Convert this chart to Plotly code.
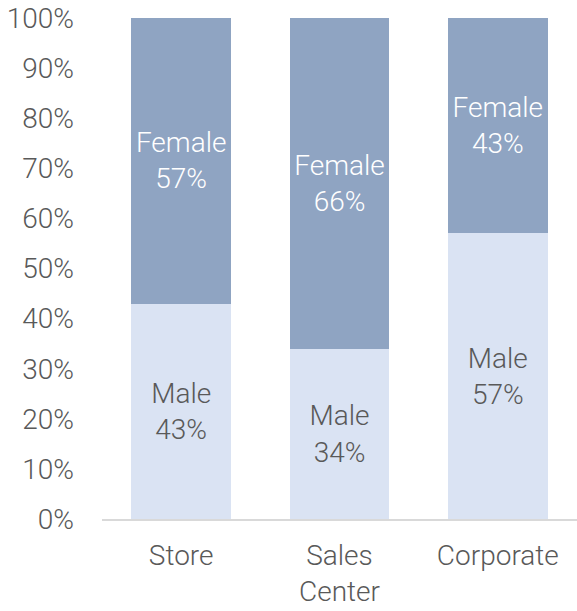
import plotly.graph_objects as go

categories = ["Store", "Sales<br>Center", "Corporate"]
male = [0.43, 0.34, 0.57]
female = [0.57, 0.66, 0.43]

FONT = "Roboto"
GRAY = "#595959"
SIZE = 28

fig = go.Figure()
fig.add_trace(go.Bar(
    x=categories, y=male, name="Male",
    marker=dict(color="#DAE3F3", line=dict(width=0)),
    text=[f"Male<br>{v:.0%}" for v in male],
    textposition="inside", insidetextanchor="middle",
    textfont=dict(family=FONT, size=SIZE, color=GRAY, weight=300),
    constraintext="none", width=0.63, hoverinfo="skip",
))
fig.add_trace(go.Bar(
    x=categories, y=female, name="Female",
    marker=dict(color="#8FA4C2", line=dict(width=0)),
    text=[f"Female<br>{v:.0%}" for v in female],
    textposition="inside", insidetextanchor="middle",
    textfont=dict(family=FONT, size=SIZE, color="#FFFFFF", weight=300),
    constraintext="none", width=0.63, hoverinfo="skip",
))

fig.update_layout(
    barmode="stack",
    width=577, height=611,
    margin=dict(l=102, r=0, t=18, b=92),
    paper_bgcolor="white", plot_bgcolor="white",
    showlegend=False,
    font=dict(family=FONT, size=SIZE, color=GRAY, weight=300),
    uniformtext=dict(mode=False),
)
fig.update_yaxes(
    range=[0, 1], dtick=0.1, tickformat=".0%",
    showgrid=False, zeroline=False, showline=False,
    ticks="", ticklabelstandoff=27, automargin=False,
    ticklabeloverflow="allow",
    tickfont=dict(family=FONT, size=SIZE, color=GRAY, weight=300),
)
fig.update_xaxes(
    showgrid=False, showline=True, linecolor="#D9D9D9", linewidth=2,
    ticks="", ticklabelstandoff=10, automargin=False,
    ticklabeloverflow="allow",
    tickfont=dict(family=FONT, size=SIZE, color=GRAY, weight=300),
)

fig.write_html(
    "out.html",
    config={"displayModeBar": False, "staticPlot": True},
    post_script="document.body.style.margin='0';",
)
